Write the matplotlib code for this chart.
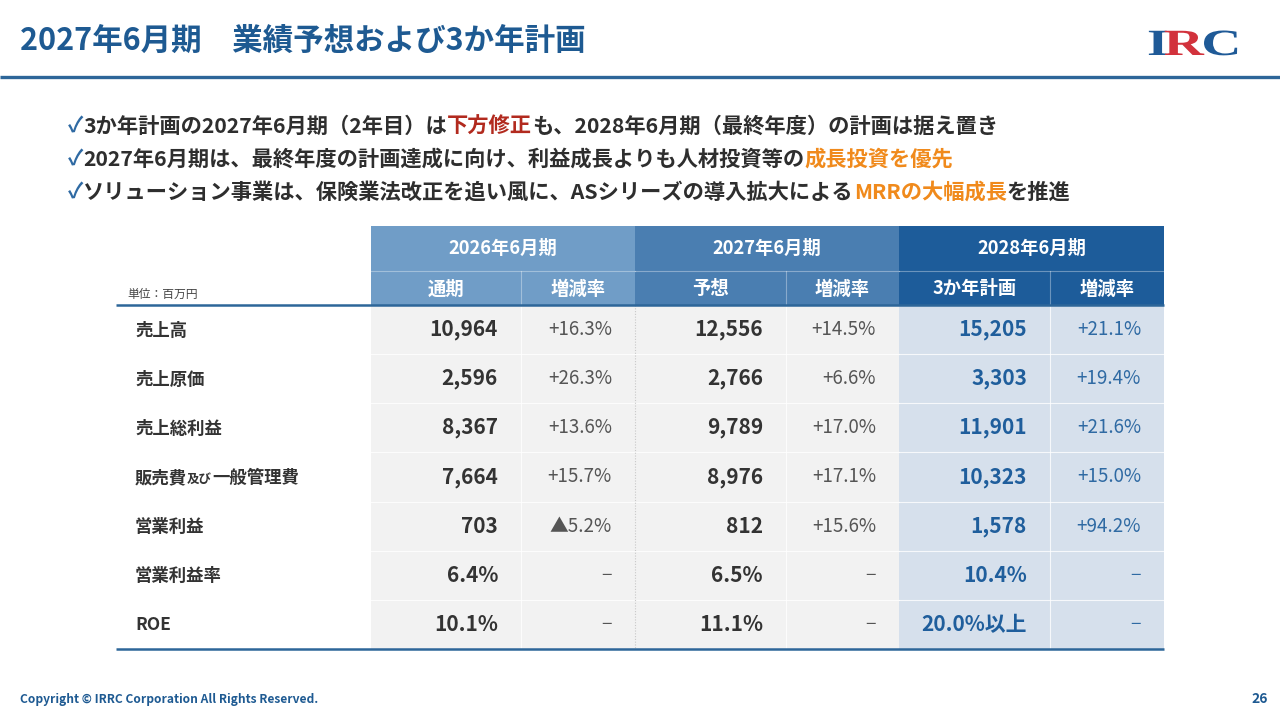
import matplotlib
matplotlib.use("Agg")
import matplotlib.pyplot as plt
from matplotlib.patches import Rectangle, PathPatch
from matplotlib.textpath import TextPath
from matplotlib.font_manager import FontProperties
from matplotlib.transforms import Affine2D

plt.rcParams["font.family"] = ["Noto Sans CJK JP", "DejaVu Sans"]

TITLE = "2027年6月期　業績予想および3か年計画"
FOOTER = "Copyright © IRRC Corporation All Rights Reserved."
PAGE_NO = "26"
UNIT_NOTE = "単位：百万円"
LOGO = "IRC"

# bullet lines: (segment, highlight)  highlight: None / "red" / "orange"
bullet_lines = [
    [("3か年計画の2027年6月期（2年目）は", None), ("下方修正", "red"),
     ("も、2028年6月期（最終年度）の計画は据え置き", None)],
    [("2027年6月期は、最終年度の計画達成に向け、利益成長よりも人材投資等の", None),
     ("成長投資を優先", "orange")],
    [("ソリューション事業は、保険業法改正を追い風に、ASシリーズの導入拡大による", None),
     ("MRRの大幅成長", "orange"), ("を推進", None)],
]

period_headers = ["2026年6月期", "2027年6月期", "2028年6月期"]
sub_headers = ["通期", "増減率", "予想", "増減率", "3か年計画", "増減率"]

row_labels = ["売上高", "売上原価", "売上総利益", "販売費及び一般管理費",
              "営業利益", "営業利益率", "ROE"]
fy2026_values = ["10,964", "2,596", "8,367", "7,664", "703", "6.4%", "10.1%"]
fy2026_rates = ["+16.3%", "+26.3%", "+13.6%", "+15.7%", "▲5.2%", "−", "−"]
fy2027_values = ["12,556", "2,766", "9,789", "8,976", "812", "6.5%", "11.1%"]
fy2027_rates = ["+14.5%", "+6.6%", "+17.0%", "+17.1%", "+15.6%", "−", "−"]
fy2028_values = ["15,205", "3,303", "11,901", "10,323", "1,578", "10.4%", "20.0%以上"]
fy2028_rates = ["+21.1%", "+19.4%", "+21.6%", "+15.0%", "+94.2%", "−", "−"]

BLUE = "#1E5A92"
LINE_BLUE = "#2D6699"
TEXT = "#2E2E2E"
RATE_TEXT = "#555555"
HIGHLIGHT = {None: TEXT, "red": "#B22A1E", "orange": "#F08A1C"}
HEAD_COLORS = ["#709DC7", "#4A7EB1", "#1D5C9A"]
CELL_COLORS = ["#F2F2F2", "#F2F2F2", "#D6E0EC"]
VALUE_COLORS = ["#333333", "#333333", "#1F5E9C"]
RATE_COLORS = [RATE_TEXT, RATE_TEXT, "#2F6AA3"]
LOGO_COLORS = ["#1F5A97", "#D2323C", "#1F5A97"]

col_edges = [116, 371, 521, 635, 786, 899, 1050, 1164]
head_top, head_mid, head_bottom = 226, 271, 305
table_bottom = 649
pad = 23


def draw_runs(ax, x, y, runs, renderer, **common):
    for s, kw in runs:
        t = ax.text(x, y, s, **{**common, **kw})
        x += t.get_window_extent(renderer).width
    return x


def draw_logo(ax, x, baseline):
    prop = FontProperties(family="Liberation Serif", weight="bold")
    sx = 1.5
    for ch, col in zip(LOGO, LOGO_COLORS):
        tp = TextPath((0, 0), ch, size=37, prop=prop)
        width = tp.get_extents().x1
        tr = Affine2D().scale(sx, -1.0).translate(x, baseline) + ax.transData
        ax.add_patch(PathPatch(tp, transform=tr, facecolor=col, edgecolor="none"))
        x += width * sx - 3


def main():
    fig = plt.figure(figsize=(12.8, 7.2), dpi=100)
    ax = fig.add_axes([0, 0, 1, 1])
    ax.set_xlim(0, 1280)
    ax.set_ylim(720, 0)
    ax.axis("off")
    renderer = fig.canvas.get_renderer()

    # title + logo
    ax.text(20, 41, TITLE, fontsize=22, fontweight="bold", color=BLUE,
            va="center", ha="left")
    ax.plot([0, 1280], [77, 77], color=LINE_BLUE, lw=2.4, solid_capstyle="butt")
    draw_logo(ax, 1147, 55)

    # bullets
    for i, line in enumerate(bullet_lines):
        y = 126 + i * 33
        runs = [("✓", {"color": "#2F6AA3", "fontweight": "bold"})]
        runs += [(seg, {"color": HIGHLIGHT[h]}) for seg, h in line]
        draw_runs(ax, 68, y, runs, renderer, fontsize=15.3, fontweight="bold",
                  va="center", ha="left")

    # header cells
    for g in range(3):
        x0, x2 = col_edges[1 + 2 * g], col_edges[3 + 2 * g]
        x1 = col_edges[2 + 2 * g]
        ax.add_patch(Rectangle((x0, head_top), x2 - x0, head_bottom - head_top,
                               facecolor=HEAD_COLORS[g], edgecolor="none"))
        ax.text((x0 + x2) / 2, (head_top + head_mid) / 2, period_headers[g],
                color="white", fontsize=13.2, fontweight="bold", ha="center", va="center")
        ax.plot([x0, x2], [head_mid, head_mid], color="white", lw=0.8, alpha=0.35)
        ax.plot([x1, x1], [head_mid, head_bottom], color="white", lw=0.8, alpha=0.35)
        for k, (a, b) in enumerate([(x0, x1), (x1, x2)]):
            ax.text((a + b) / 2, (head_mid + head_bottom) / 2 + 1, sub_headers[2 * g + k],
                    color="white", fontsize=13.2, fontweight="bold", ha="center", va="center")

    ax.text(127, 294, UNIT_NOTE, fontsize=8.5, color="#444444", ha="left", va="center")

    # data cells
    n_rows = len(row_labels)
    row_h = (table_bottom - head_bottom) / n_rows
    values = [fy2026_values, fy2027_values, fy2028_values]
    rates = [fy2026_rates, fy2027_rates, fy2028_rates]
    for g in range(3):
        x0, x1, x2 = col_edges[1 + 2 * g], col_edges[2 + 2 * g], col_edges[3 + 2 * g]
        ax.add_patch(Rectangle((x0, head_bottom), x2 - x0, table_bottom - head_bottom,
                               facecolor=CELL_COLORS[g], edgecolor="none"))
        ax.plot([x1, x1], [head_bottom, table_bottom], color="white", lw=0.8, alpha=0.8)
        for r in range(1, n_rows):
            yy = head_bottom + r * row_h
            ax.plot([x0, x2], [yy, yy], color="white", lw=0.8, alpha=0.8)
        for r in range(n_rows):
            yc = head_bottom + (r + 0.5) * row_h
            ax.text(x1 - pad, yc, values[g][r], color=VALUE_COLORS[g], fontsize=15,
                    fontweight="bold", ha="right", va="center")
            ax.text(x2 - pad, yc, rates[g][r], color=RATE_COLORS[g], fontsize=13.5,
                    ha="right", va="center")
    ax.plot([635, 635], [head_bottom, table_bottom], color="#C8C8C8", lw=0.8,
            linestyle=(0, (1, 1.5)))

    # row labels (with small 及び)
    for r, label in enumerate(row_labels):
        yb = head_bottom + (r + 0.5) * row_h + 6
        if "及び" in label:
            head, tail = label.split("及び")
            runs = [(head, {}), ("及び", {"fontsize": 9}), (tail, {})]
        else:
            runs = [(label, {})]
        draw_runs(ax, 135, yb, runs, renderer, fontsize=12.5, fontweight="bold",
                  color="#333333", va="baseline", ha="left")

    ax.plot([col_edges[0], col_edges[-1]], [head_bottom, head_bottom], color=LINE_BLUE,
            lw=1.8, solid_capstyle="butt")
    ax.plot([col_edges[0], col_edges[-1]], [table_bottom, table_bottom], color=LINE_BLUE,
            lw=1.8, solid_capstyle="butt")

    # footer
    ax.text(20, 699, FOOTER, fontsize=8.65, fontweight="bold", color=BLUE,
            ha="left", va="center")
    ax.text(1268, 699, PAGE_NO, fontsize=10, fontweight="bold", color=BLUE,
            ha="right", va="center")

    fig.savefig("out.png", dpi=100)
    plt.close(fig)


if __name__ == "__main__":
    main()
